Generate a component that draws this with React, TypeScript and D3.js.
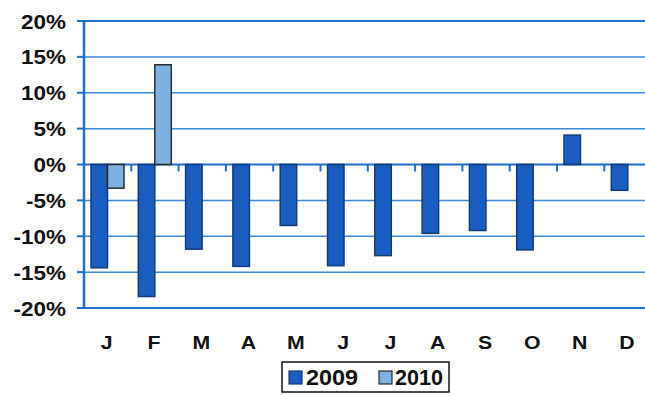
import React from "react";
import * as d3 from "d3";

const months = ["J", "F", "M", "A", "M", "J", "J", "A", "S", "O", "N", "D"];
const seriesNames = ["2009", "2010"];
const values2009 = [-14.4, -18.4, -11.8, -14.2, -8.5, -14.1, -12.7, -9.6, -9.2, -11.9, 4.1, -3.6];
const values2010: (number | null)[] = [-3.3, 13.9, null, null, null, null, null, null, null, null, null, null];
const yTicks = [-20, -15, -10, -5, 0, 5, 10, 15, 20];

const fills = ["#1b5ec2", "#7fb0e2"];
const strokes = ["#123a78", "#2a2a2a"];
const gridColor = "#3d8ad8";
const axisColor = "#1f6fcc";
const fontFamily = "'Liberation Sans', Arial, sans-serif";

// legend item layout: swatch x, text x, text width
const legendItems = [
  { sx: 289, tx: 306, tw: 52 },
  { sx: 379, tx: 395, tw: 48 },
];

export default function App() {
  const width = 645;
  const height = 396;
  const left = 84;
  const bandW = 47.3;
  const top = 21;
  const bottom = 308;

  const x = d3
    .scaleBand<number>()
    .domain(months.map((_, i) => i))
    .range([left, left + bandW * months.length])
    .padding(0);
  const xInner = d3.scaleBand<string>().domain(seriesNames).range([7, 40]).padding(0);
  const y = d3.scaleLinear().domain([-20, 20]).range([bottom, top]);

  const series = [values2009, values2010];

  return (
    <svg
      width={width}
      height={height}
      style={{ position: "absolute", left: 0, top: 0, background: "#fff" }}
    >
      {/* horizontal gridlines */}
      {yTicks.map((t) => (
        <line
          key={"g" + t}
          x1={left}
          x2={width}
          y1={y(t)}
          y2={y(t)}
          stroke={t === 20 || t === -20 || t === 0 ? axisColor : gridColor}
          strokeWidth={t === 20 || t === -20 || t === 0 ? 2.2 : 1.5}
        />
      ))}
      {/* y axis ticks and labels */}
      {yTicks.map((t) => (
        <g key={"t" + t}>
          <line x1={left - 7} x2={left} y1={y(t)} y2={y(t)} stroke={axisColor} strokeWidth={2} />
          <text
            transform={`translate(66,${y(t)}) scale(1.07,1)`}
            dy="0.36em"
            textAnchor="end"
            fontFamily={fontFamily}
            fontWeight="bold"
            fontSize={21}
            fill="#111"
          >
            {t + "%"}
          </text>
        </g>
      ))}
      {/* bars */}
      {series.map((vals, si) =>
        vals.map((v, i) => {
          if (v === null) return null;
          const x0 = (x(i) as number) + (xInner(seriesNames[si]) as number);
          const y0 = Math.min(y(v), y(0));
          const h = Math.abs(y(v) - y(0));
          return (
            <rect
              key={si + "-" + i}
              x={x0}
              y={y0}
              width={xInner.bandwidth()}
              height={h}
              fill={fills[si]}
              stroke={strokes[si]}
              strokeWidth={1.5}
            />
          );
        })
      )}
      {/* zero line ticks at category boundaries */}
      {months.slice(1).map((_, i) => (
        <line
          key={"c" + i}
          x1={x(i + 1) as number}
          x2={x(i + 1) as number}
          y1={y(0)}
          y2={y(0) + 7}
          stroke={axisColor}
          strokeWidth={2}
        />
      ))}
      {/* left axis */}
      <line x1={left} x2={left} y1={top} y2={bottom} stroke={axisColor} strokeWidth={2.5} />
      {/* month labels */}
      {months.map((m, i) => (
        <text
          key={"m" + i}
          transform={`translate(${(x(i) as number) + x.bandwidth() / 2 - 1},342) scale(1.12,1)`}
          dy="0.36em"
          textAnchor="middle"
          fontFamily={fontFamily}
          fontWeight="bold"
          fontSize={19}
          fill="#111"
        >
          {m}
        </text>
      ))}
      {/* legend */}
      <g>
        <rect x={282} y={362} width={167} height={30} fill="#fff" stroke="#111" strokeWidth={1.5} />
        {seriesNames.map((s, si) => {
          const it = legendItems[si];
          return (
            <g key={"l" + s}>
              <rect x={it.sx} y={371} width={13} height={13} fill={fills[si]} stroke={strokes[si]} strokeWidth={1.2} />
              <text
                x={it.tx}
                y={377.5}
                dy="0.36em"
                fontFamily={fontFamily}
                fontWeight="bold"
                fontSize={22}
                textLength={it.tw}
                lengthAdjust="spacingAndGlyphs"
                fill="#111"
              >
                {s}
              </text>
            </g>
          );
        })}
      </g>
    </svg>
  );
}
